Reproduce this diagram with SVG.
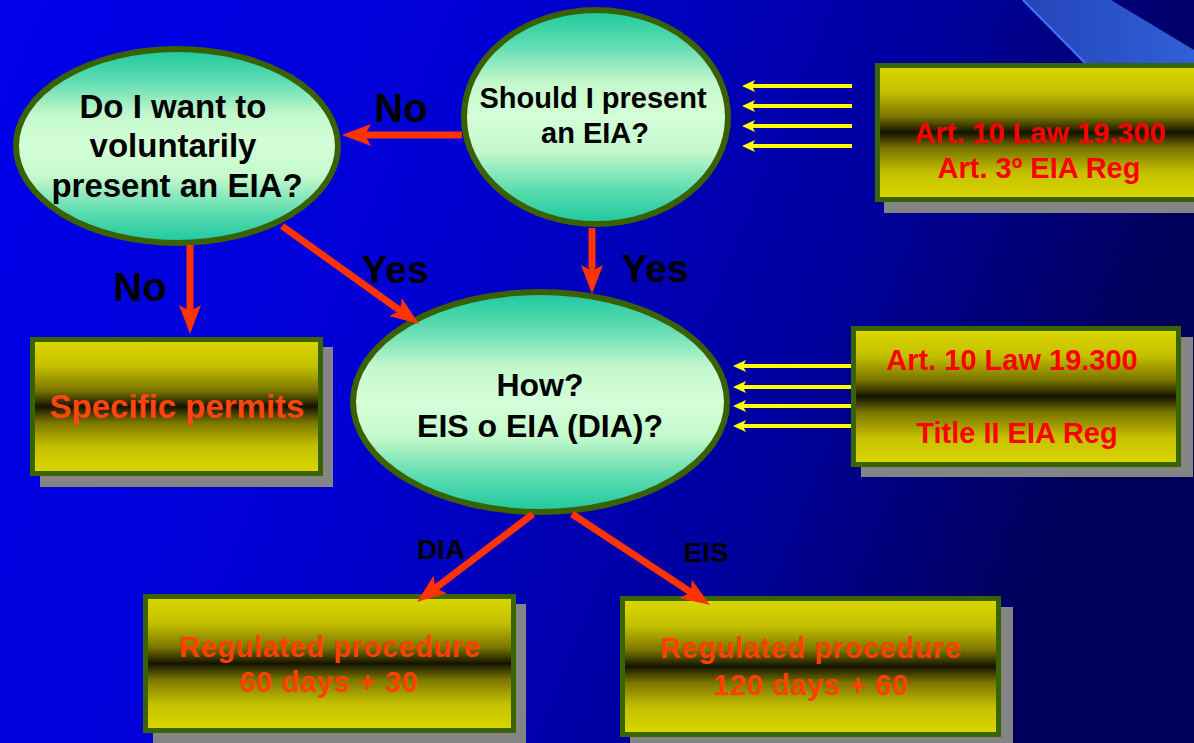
<svg xmlns="http://www.w3.org/2000/svg" width="1194" height="743" viewBox="0 0 1194 743">
<defs>
<linearGradient id="bg" x1="0" y1="0" x2="1" y2="0.25">
<stop offset="0" stop-color="#0000ea"/>
<stop offset="0.4" stop-color="#0000d4"/>
<stop offset="0.75" stop-color="#00009c"/>
<stop offset="1" stop-color="#00005a"/>
</linearGradient>
<linearGradient id="band" x1="0" y1="0" x2="1" y2="0">
<stop offset="0" stop-color="#2444b8"/>
<stop offset="1" stop-color="#3060d8"/>
</linearGradient>
<linearGradient id="ell" x1="0" y1="0" x2="0" y2="1">
<stop offset="0" stop-color="#1cc89e"/>
<stop offset="0.16" stop-color="#5cdcb0"/>
<stop offset="0.34" stop-color="#c4f8cc"/>
<stop offset="0.5" stop-color="#d4ffd8"/>
<stop offset="0.66" stop-color="#c4f8cc"/>
<stop offset="0.84" stop-color="#5cdcb0"/>
<stop offset="1" stop-color="#1cc89e"/>
</linearGradient>
<linearGradient id="box" x1="0" y1="0" x2="0" y2="1">
<stop offset="0" stop-color="#dcd800"/>
<stop offset="0.2" stop-color="#c4c000"/>
<stop offset="0.38" stop-color="#7a7600"/>
<stop offset="0.5" stop-color="#141400"/>
<stop offset="0.62" stop-color="#7a7600"/>
<stop offset="0.8" stop-color="#c4c000"/>
<stop offset="1" stop-color="#dcd800"/>
</linearGradient>
<marker id="ah" markerUnits="userSpaceOnUse" markerWidth="34" markerHeight="26" viewBox="-16 -13 34 26" refX="0" refY="0" orient="auto" overflow="visible">
<path d="M15,0 L-14,-11 L-8,0 L-14,11 Z" fill="#ff3300"/>
</marker>
<marker id="yah" markerUnits="userSpaceOnUse" markerWidth="20" markerHeight="16" viewBox="-10 -8 20 16" refX="0" refY="0" orient="auto" overflow="visible">
<path d="M5,0 L-8,-6 L-5,0 L-8,6 Z" fill="#ffff00"/>
</marker>
<style>
.ell{fill:url(#ell);stroke:#3a6000;stroke-width:6}
.box{fill:url(#box);stroke:#3a6400;stroke-width:5}
.sh{fill:#848484}
.et{font-family:"Liberation Sans",Arial,sans-serif;font-weight:bold;fill:#000;text-anchor:middle}
.bt{font-family:"Liberation Sans",Arial,sans-serif;font-weight:bold;text-anchor:middle}
.lbl{font-family:"Liberation Sans",Arial,sans-serif;font-weight:bold;fill:#000;text-anchor:middle}
.red{stroke:#ff3300;stroke-width:7;fill:none;marker-end:url(#ah)}
.yel{stroke:#ffff00;stroke-width:4;fill:none;marker-end:url(#yah)}
</style>
</defs>
<rect x="0" y="0" width="1194" height="743" fill="url(#bg)"/>
<polygon points="1023,0 1111,0 1194,50 1194,130 1150,130" fill="url(#band)"/>
<line x1="1023" y1="0" x2="1090" y2="68" stroke="#3a78ff" stroke-width="2"/>

<g id="node-voluntary">
<ellipse class="ell" cx="177" cy="146" rx="161" ry="97"/>
<text class="et" font-size="33"><tspan x="173" y="118">Do I want to</tspan><tspan x="173" y="157">voluntarily</tspan><tspan x="177" y="197">present an EIA?</tspan></text>
</g>
<g id="node-should">
<ellipse class="ell" cx="596" cy="117" rx="132" ry="107"/>
<text class="et" font-size="29"><tspan x="593" y="108">Should I present</tspan><tspan x="595" y="143">an EIA?</tspan></text>
</g>
<g id="node-how">
<ellipse class="ell" cx="540" cy="402" rx="187" ry="110"/>
<text class="et" font-size="32"><tspan x="540" y="396">How?</tspan><tspan x="540" y="437">EIS o EIA (DIA)?</tspan></text>
</g>
<g id="node-law1">
<rect class="sh" x="884" y="70" width="320" height="143"/>
<rect class="box" x="877.5" y="65.5" width="330" height="134"/>
<text class="bt" font-size="29" fill="#ff0000"><tspan x="1040" y="143">Art. 10 Law 19.300</tspan><tspan x="1039" y="178">Art. 3º EIA Reg</tspan></text>
</g>
<g id="node-law2">
<rect class="sh" x="861" y="337" width="332" height="140"/>
<rect class="box" x="853.5" y="328.5" width="325" height="136"/>
<text class="bt" font-size="29" fill="#ff0000"><tspan x="1012" y="370">Art. 10 Law 19.300</tspan><tspan x="1017" y="443">Title II EIA Reg</tspan></text>
</g>
<g id="node-permits">
<rect class="sh" x="40" y="347" width="293" height="140"/>
<rect class="box" x="32.5" y="339.5" width="288" height="134"/>
<text class="bt" font-size="33" fill="#ff4410" x="177" y="418">Specific permits</text>
</g>
<g id="node-dia">
<rect class="sh" x="153" y="604" width="373" height="145"/>
<rect class="box" x="145.5" y="596.5" width="368" height="134"/>
<text class="bt" font-size="29" fill="#ff4000" letter-spacing="0.6"><tspan x="330" y="657">Regulated procedure</tspan><tspan x="329" y="692">60 days + 30</tspan></text>
</g>
<g id="node-eis">
<rect class="sh" x="630" y="607" width="383" height="140"/>
<rect class="box" x="622.5" y="598.5" width="376" height="136"/>
<text class="bt" font-size="29" fill="#ff4000" letter-spacing="0.6"><tspan x="811" y="658">Regulated procedure</tspan><tspan x="811" y="695">120 days + 60</tspan></text>
</g>

<g id="connectors">
<line class="red" x1="462" y1="135" x2="357" y2="135"/>
<line class="red" x1="190" y1="245" x2="190" y2="319"/>
<line class="red" x1="282" y1="226" x2="406.8" y2="315.3"/>
<line class="red" x1="592" y1="228" x2="592" y2="279"/>
<line class="red" x1="533" y1="514" x2="429" y2="593"/>
<line class="red" x1="572" y1="514" x2="697.5" y2="596.7"/>
<line class="yel" x1="852" y1="86" x2="747" y2="86"/>
<line class="yel" x1="852" y1="106" x2="747" y2="106"/>
<line class="yel" x1="852" y1="126" x2="747" y2="126"/>
<line class="yel" x1="852" y1="146" x2="747" y2="146"/>
<line class="yel" x1="851" y1="366" x2="738" y2="366"/>
<line class="yel" x1="851" y1="387" x2="738" y2="387"/>
<line class="yel" x1="851" y1="406" x2="738" y2="406"/>
<line class="yel" x1="851" y1="426" x2="738" y2="426"/>
<text class="lbl" font-size="40" x="401" y="122">No</text>
<text class="lbl" font-size="40" x="140" y="301">No</text>
<text class="lbl" font-size="39" x="395" y="283">Yes</text>
<text class="lbl" font-size="39" x="655" y="282">Yes</text>
<text class="lbl" font-size="28" x="441" y="559">DIA</text>
<text class="lbl" font-size="28" x="706" y="562">EIS</text>
</g>
</svg>
